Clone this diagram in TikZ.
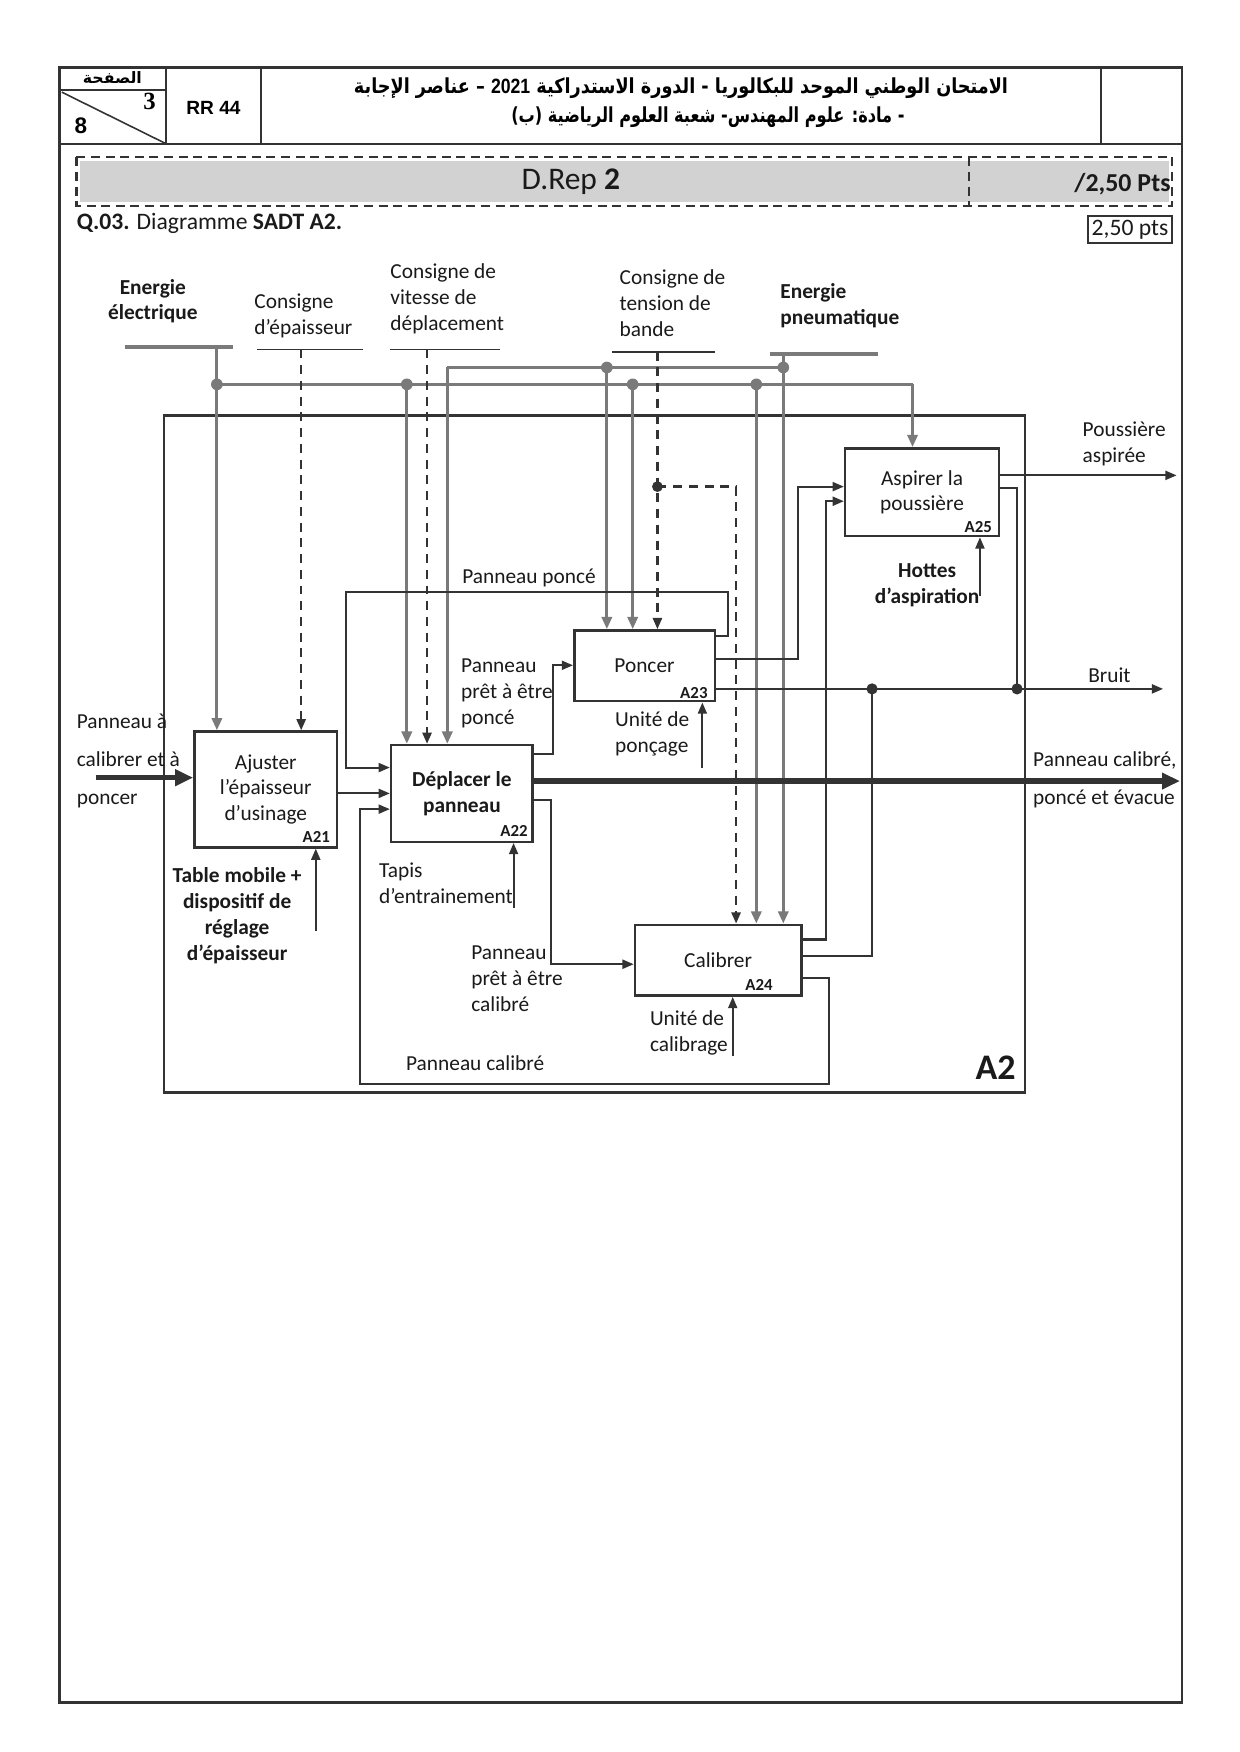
\documentclass[tikz,border=0pt]{standalone}
\usepackage{fontspec}
\usepackage{graphicx}
\setmainfont{Carlito}
\newfontfamily\arabicfont[Script=Arabic]{DejaVu Sans}
\newfontfamily\arialfont{Liberation Sans}
\newfontfamily\timesfont{Liberation Serif}
\TeXXeTstate=1
\usetikzlibrary{arrows.meta}
\definecolor{linec}{HTML}{333333}
\definecolor{energyc}{HTML}{7A7A7A}
\definecolor{textc}{HTML}{1A1A1A}
\definecolor{bandc}{HTML}{D2D2D2}
\begin{document}
\begin{tikzpicture}[x=0.5pt,y=-0.5pt,
  line/.style={draw=linec, line width=0.9pt},
  arr/.style={line, -{Triangle[length=5pt,width=4pt]}},
  mainarr/.style={draw=linec, line width=2.4pt, -{Triangle[length=8pt,width=7pt]}},
  energy/.style={draw=energyc, line width=1.4pt},
  earr/.style={energy, -{Triangle[length=5.5pt,width=4.5pt]}},
  ebar/.style={draw=energyc, line width=1.7pt},
  cbar/.style={draw=linec, line width=0.8pt},
  ctrl/.style={draw=linec, line width=1.1pt, dash pattern=on 4pt off 3pt},
  carr/.style={ctrl, -{Triangle[length=5pt,width=4pt]}},
  fbox/.style={draw=linec, line width=1.1pt, align=center, inner sep=0pt, text=textc,
     font=\fontsize{9.5}{11.5}\selectfont},
  lbl/.style={inner sep=0pt, text=textc, font=\fontsize{9.5}{11.5}\selectfont},
  tag/.style={inner sep=0pt, text=textc, font=\bfseries\fontsize{7.5}{9}\selectfont},
  dotc/.style={fill=linec},
  dote/.style={fill=energyc}
]
\fill[white] (0,0) rectangle (1103,1559);
\useasboundingbox (0,0) rectangle (1103,1559);

% ---------- page frame and header ----------
\draw[draw=linec, line width=1.1pt] (53,60) rectangle (1052,1515);
\draw[draw=linec, line width=0.9pt] (53,128) -- (1052,128);
\draw[draw=linec, line width=0.9pt] (148,60) -- (148,128);
\draw[draw=linec, line width=0.9pt] (232,60) -- (232,128);
\draw[draw=linec, line width=0.9pt] (980,60) -- (980,128);
\draw[draw=linec, line width=0.8pt] (53,80) -- (148,80);
\draw[draw=linec, line width=0.7pt] (55,82) -- (148,128);
\node[inner sep=0pt, font=\arabicfont\bfseries\fontsize{7}{8}\selectfont] (pg) at (100,69) {\beginR الصفحة\endR};
\node[inner sep=0pt, font=\timesfont\bfseries\fontsize{11}{12}\selectfont] (p3) at (133,90) {3};
\node[inner sep=0pt, font=\arialfont\bfseries\fontsize{10}{12}\selectfont] (p8) at (72,112) {8};
\node[inner sep=0pt, font=\arialfont\bfseries\fontsize{8.5}{10}\selectfont] (rr) at (190,96) {RR 44};
\node[inner sep=0pt, font=\arabicfont\bfseries\fontsize{10}{12}\selectfont] (ar1) at (606,78)
  {\resizebox{291pt}{7pt}{\beginR الامتحان الوطني الموحد للبكالوريا - الدورة الاستدراكية {\arialfont\bfseries\beginL 2021\endL} – عناصر الإجابة\endR}};
\node[inner sep=0pt, font=\arabicfont\bfseries\fontsize{10}{12}\selectfont] (ar2) at (630,104)
  {\resizebox{175pt}{7pt}{\beginR - مادة: علوم المهندس- شعبة العلوم الرياضية (ب)\endR}};

% D.Rep band
\fill[bandc] (71,143) rectangle (1040,180);
\draw[draw=linec, line width=1pt, dash pattern=on 4pt off 2.5pt] (68,140) rectangle (1043,183);
\draw[draw=linec, line width=1pt, dash pattern=on 4pt off 2.5pt] (862,140) -- (862,183);
\node[inner sep=0pt, text=textc, font=\fontsize{14}{16}\selectfont] (drep) at (508,162) {D.Rep \textbf{2}};
\node[inner sep=0pt, text=textc, anchor=east, font=\bfseries\fontsize{11.5}{14}\selectfont] (pts) at (1042,164) {/2,50 Pts};
\node[inner sep=0pt, text=textc, anchor=west, font=\fontsize{10.5}{12}\selectfont] (q3) at (68,199) {\textbf{Q.03.} Diagramme \textbf{SADT A2.}};
\draw[draw=linec, line width=0.8pt] (968,192) rectangle (1043,216);
\node[inner sep=0pt, text=textc, font=\fontsize{10.5}{12}\selectfont] (pts2) at (1005.5,204) {2,50 pts};

% ---------- A2 frame ----------
\draw[draw=linec, line width=1.2pt] (146,370) rectangle (912,972);
\node[inner sep=0pt, text=textc, font=\bfseries\fontsize{16}{18}\selectfont] (a2) at (886,950) {A2};

% ---------- boxes ----------
\node[fbox, minimum width=63.5pt, minimum height=51.5pt] (A21) at (236.5,702.5) {Ajuster\\l’épaisseur\\d’usinage};
\node[fbox, minimum width=63pt, minimum height=43pt, font=\bfseries\fontsize{9.5}{11.5}\selectfont] (A22) at (411,706) {Déplacer le\\panneau};
\node[fbox, minimum width=62.5pt, minimum height=31.5pt] (A23) at (573.5,592.5) {Poncer};
\node[fbox, minimum width=74pt, minimum height=31.5pt] (A24) at (639,854.5) {Calibrer};
\node[fbox, minimum width=68.5pt, minimum height=39pt] (A25) at (820.5,438) {Aspirer la\\poussière};
\node[tag, anchor=south east] at (294,750) {A21};
\node[tag, anchor=south east] at (470,745) {A22};
\node[tag, anchor=south east] at (630,622) {A23};
\node[tag, anchor=south east] at (688,882) {A24};
\node[tag, anchor=south east] at (883,474) {A25};

% ---------- top labels and bars ----------
\node[lbl, align=center, font=\bfseries\fontsize{9.5}{11.5}\selectfont] (lee) at (136,268) {Energie\\électrique};
\node[lbl, align=left, anchor=west] (lce) at (226,281) {Consigne\\d’épaisseur};
\node[lbl, align=left, anchor=west] (lcv) at (347,266) {Consigne de\\vitesse de\\déplacement};
\node[lbl, align=left, anchor=west] (lct) at (551,270) {Consigne de\\tension de\\bande};
\node[lbl, align=left, anchor=west, font=\bfseries\fontsize{9.5}{11.5}\selectfont] (lep) at (694,272) {Energie\\pneumatique};
\draw[ebar] (111,309) -- (207,309);
\draw[cbar] (229,311) -- (323,311);
\draw[cbar] (347,311) -- (445,311);
\draw[cbar] (545,313) -- (636,313);
\draw[ebar] (685,315) -- (781,315);

% ---------- energy distribution ----------
\coordinate (eb) at (193,309);
\coordinate (j1) at (193,342);
\coordinate (j2) at (362,342);
\coordinate (j3) at (563,342);
\coordinate (j4) at (673,342);
\coordinate (j5) at (812,342);
\coordinate (pb) at (697,315);
\coordinate (q1) at (697,327);
\coordinate (q2) at (540,327);
\coordinate (q3) at (398,327);
\draw[energy] (j1) -- (j5);
\draw[energy] (q1) -- (q3);
\draw[earr] (eb) -- (A21.north -| eb);
\draw[earr] (j5) -- (A25.north -| j5);
\draw[earr] (j2) -- (A22.north -| j2);
\draw[earr] (j3) -- (A23.north -| j3);
\draw[earr] (j4) -- (A24.north -| j4);
\draw[earr] (pb) -- (A24.north -| pb);
\draw[earr] (q3) -- (A22.north -| q3);
\draw[earr] (q2) -- (A23.north -| q2);
\foreach \p in {j1,j2,j3,j4,q1,q2} \fill[dote] (\p) circle (2.6pt);

% ---------- controls ----------
\coordinate (c1) at (268,311);
\coordinate (c2) at (380,311);
\coordinate (c3) at (585,313);
\coordinate (c3j) at (585,433);
\coordinate (c3k) at (655,433);
\draw[carr] (c1) -- (A21.north -| c1);
\draw[carr] (c2) -- (A22.north -| c2);
\draw[carr] (c3) -- (A23.north -| c3);
\draw[carr] (c3j) -- (c3k) -- (A24.north -| c3k);
\fill[dotc] (c3j) circle (2.4pt);

% ---------- flows ----------
\coordinate (inL) at (85,692);
\coordinate (outR) at (1050,695);
\draw[mainarr] (inL) -- (A21.west |- inL);
\draw[arr] (A21.east |- 0,706) -- (A22.west |- 0,706);
\draw[mainarr] (A22.east |- outR) -- (outR);
\draw[arr] (A22.east |- 0,671) -- (492,671) -- (492,592) -- (A23.west |- 0,592);
\draw[arr] (A22.east |- 0,712) -- (490,712) -- (490,858) -- (A24.west |- 0,858);
\draw[arr] (A23.east |- 0,566) -- (648,566) -- (648,527) -- (308,527) -- (308,683) -- (A22.west |- 0,683);
\draw[arr] (A23.east |- 0,586) -- (710,586) -- (710,433) -- (A25.west |- 0,433);
\coordinate (bruitR) at (1035,613);
\coordinate (bj1) at (776,613);
\coordinate (bj2) at (905,613);
\draw[arr] (A23.east |- bruitR) -- (bruitR);
\draw[arr] (A24.east |- 0,836) -- (735,836) -- (735,446) -- (A25.west |- 0,446);
\draw[line] (A24.east |- 0,851) -- (776,851) -- (bj1);
\draw[arr] (A24.east |- 0,870) -- (738,870) -- (738,965) -- (320,965) -- (320,720) -- (A22.west |- 0,720);
\coordinate (poussR) at (1047,423);
\draw[arr] (A25.east |- poussR) -- (poussR);
\draw[line] (A25.east |- 0,434) -- (905,434) -- (bj2);
\fill[dotc] (bj1) circle (2.5pt);
\fill[dotc] (bj2) circle (2.5pt);

% ---------- mechanisms ----------
\draw[arr] (281,828) -- (A21.south -| 281,0);
\draw[arr] (457,808) -- (A22.south -| 457,0);
\draw[arr] (625,683) -- (A23.south -| 625,0);
\draw[arr] (652,940) -- (A24.south -| 652,0);
\draw[arr] (872,530) -- (A25.south -| 872,0);

% ---------- labels ----------
\node[lbl, align=center, font=\bfseries\fontsize{9.5}{11.5}\selectfont] (m21) at (211,815) {Table mobile +\\dispositif de\\réglage\\d’épaisseur};
\node[lbl, align=left, anchor=west] (m22) at (337,786) {Tapis\\d’entrainement};
\node[lbl, align=left, anchor=west] (m23) at (547,653) {Unité de\\ponçage};
\node[lbl, align=left, anchor=west] (m24) at (578,919) {Unité de\\calibrage};
\node[lbl, align=center, font=\bfseries\fontsize{9.5}{11.5}\selectfont] (m25) at (825,521) {Hottes\\d’aspiration};
\node[lbl, anchor=west] (lpp) at (411,514) {Panneau poncé};
\node[lbl, align=left, anchor=west] (lpr1) at (410,617) {Panneau\\prêt à être\\poncé};
\node[lbl, align=left, anchor=west] (lpr2) at (419,871) {Panneau\\prêt à être\\calibré};
\node[lbl, anchor=west] (lpc) at (361,946) {Panneau calibré};
\node[lbl, align=left, anchor=west, font=\fontsize{9.5}{17}\selectfont] (lin) at (68,677) {Panneau à\\calibrer et à\\poncer};
\node[lbl, align=left, anchor=west, font=\fontsize{9.5}{17}\selectfont] (lout) at (919,694) {Panneau calibré,\\poncé et évacue};
\node[lbl, anchor=west] (lbr) at (968,601) {Bruit};
\node[lbl, align=left, anchor=west] (lpa) at (963,395) {Poussière\\aspirée};
\end{tikzpicture}
\end{document}
